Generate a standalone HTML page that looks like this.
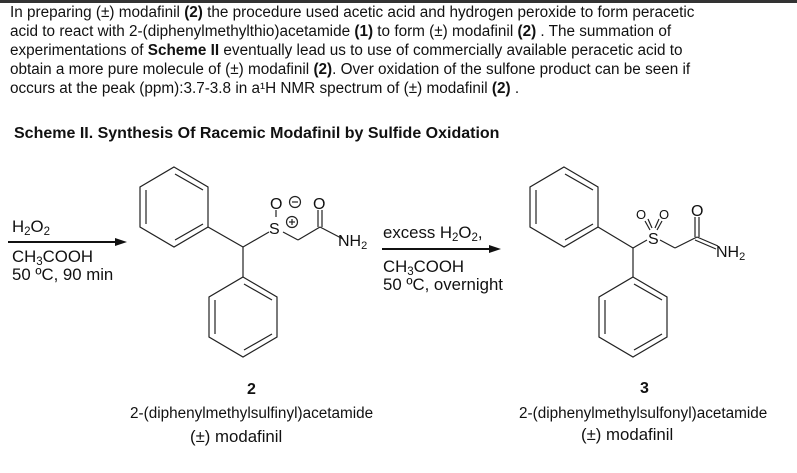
<!DOCTYPE html>
<html><head><meta charset="utf-8"><style>
body{margin:0;width:797px;height:473px;background:#fff;overflow:hidden;position:relative;font-family:"Liberation Sans",Arial,sans-serif;color:#111}
.t{position:absolute;white-space:nowrap;font-size:15.3px;line-height:19px}
.r{font-size:16.8px}
#p{left:10px;top:3px}
sub{font-size:11.5px;vertical-align:-3px;line-height:0}
</style></head><body>
<div style="position:absolute;left:0;top:0;width:797px;height:3px;background:#333"></div>
<div class="t" id="p">In preparing (±) modafinil <b>(2)</b> the procedure used acetic acid and hydrogen peroxide to form peracetic<br>acid to react with 2-(diphenylmethylthio)acetamide <b>(1)</b> to form (±) modafinil <b>(2)</b> . The summation of<br>experimentations of <b>Scheme II</b> eventually lead us to use of commercially available peracetic acid to<br>obtain a more pure molecule of (±) modafinil <b>(2)</b>. Over oxidation of the sulfone product can be seen if<br>occurs at the peak (ppm):3.7-3.8 in a¹H NMR spectrum of (±) modafinil <b>(2)</b> .</div>
<div class="t" style="left:14px;top:124px;font-weight:bold;font-size:16px">Scheme II. Synthesis Of Racemic Modafinil by Sulfide Oxidation</div>
<div class="t r" style="left:12px;top:217px">H<sub>2</sub>O<sub>2</sub></div>
<div class="t r" style="left:12px;top:247px">CH<sub>3</sub>COOH</div>
<div class="t r" style="left:12px;top:265px">50 ºC, 90 min</div>
<div class="t r" style="left:383px;top:223px">excess H<sub>2</sub>O<sub>2</sub>,</div>
<div class="t r" style="left:383px;top:257px">CH<sub>3</sub>COOH</div>
<div class="t r" style="left:383px;top:275px">50 ºC, overnight</div>
<div class="t" style="left:247px;top:380px;font-weight:bold;font-size:16px">2</div>
<div class="t" style="left:130px;top:404px;font-size:15.3px">2-(diphenylmethylsulfinyl)acetamide</div>
<div class="t r" style="left:190px;top:427px">(±) modafinil</div>
<div class="t" style="left:640px;top:379px;font-weight:bold;font-size:16px">3</div>
<div class="t" style="left:519px;top:404px;font-size:15.3px">2-(diphenylmethylsulfonyl)acetamide</div>
<div class="t r" style="left:581px;top:425px">(±) modafinil</div>
<svg width="797" height="473" style="position:absolute;left:0;top:0" font-family="Liberation Sans,Arial,sans-serif">
<g stroke="#111" stroke-width="2"><line x1="8" y1="242" x2="118" y2="242"/><line x1="382" y1="249" x2="492" y2="249"/></g>
<polygon points="127,242 115,238 115,246" fill="#111"/>
<polygon points="501,249 489,245 489,253" fill="#111"/>
<g stroke="#222" stroke-width="1.2" fill="none">
<polygon points="174,167 208,187 208,227 174,247 140,227 140,187"/>
<line x1="146" y1="190" x2="146" y2="224"/><line x1="175" y1="174" x2="203" y2="190"/><line x1="175" y1="240" x2="203" y2="224"/>
<line x1="208" y1="227" x2="243" y2="247"/><line x1="243" y1="247" x2="243" y2="277"/>
<polygon points="243,277 277,297 277,337 243,357 209,337 209,297"/>
<line x1="244" y1="284" x2="272" y2="300"/><line x1="215" y1="300" x2="215" y2="334"/><line x1="244" y1="350" x2="272" y2="334"/>
<line x1="243" y1="247" x2="269" y2="232"/>
<line x1="276" y1="210" x2="276" y2="217"/>
<line x1="283" y1="232" x2="298" y2="240"/><line x1="298" y1="240" x2="320" y2="227"/>
<line x1="320" y1="227" x2="343" y2="239"/>
<line x1="318" y1="210" x2="318" y2="227"/><line x1="322" y1="210" x2="322" y2="227"/>
<circle cx="295" cy="202" r="5.5"/><line x1="292" y1="202" x2="298" y2="202"/>
<circle cx="292" cy="222" r="5.5"/><line x1="289" y1="222" x2="295" y2="222"/><line x1="292" y1="219" x2="292" y2="225"/>
<polygon points="564,167 598,187 598,227 564,247 530,227 530,187"/>
<line x1="536" y1="190" x2="536" y2="224"/><line x1="565" y1="174" x2="593" y2="190"/><line x1="565" y1="240" x2="593" y2="224"/>
<line x1="598" y1="227" x2="633" y2="248"/><line x1="633" y1="248" x2="633" y2="277"/>
<polygon points="633,277 667,297 667,337 633,357 599,337 599,297"/>
<line x1="634" y1="284" x2="662" y2="300"/><line x1="605" y1="300" x2="605" y2="334"/><line x1="634" y1="350" x2="662" y2="334"/>
<line x1="633" y1="248" x2="647" y2="240"/>
<line x1="660" y1="240" x2="675" y2="248"/><line x1="675" y1="248" x2="697" y2="237"/>
<line x1="697" y1="237" x2="718" y2="246"/><line x1="695" y1="240" x2="716" y2="249"/>
<line x1="695" y1="217" x2="695" y2="237"/><line x1="699" y1="217" x2="699" y2="237"/>
<line x1="645" y1="221" x2="650" y2="230"/><line x1="648" y1="219" x2="652" y2="228"/>
<line x1="662" y1="221" x2="657" y2="230"/><line x1="659" y1="219" x2="655" y2="228"/>
</g>
<g font-size="16" fill="#111">
<text x="269" y="234">S</text><text x="270" y="209">O</text>
<text x="313" y="209">O</text>
<text x="338" y="246">NH<tspan font-size="11" dy="3">2</tspan></text>
<text x="648" y="244">S</text>
<text x="636" y="219" font-size="13">O</text><text x="659" y="219" font-size="13">O</text>
<text x="691" y="216">O</text>
<text x="716" y="257">NH<tspan font-size="11" dy="3">2</tspan></text>
</g>
</svg>
</body></html>
